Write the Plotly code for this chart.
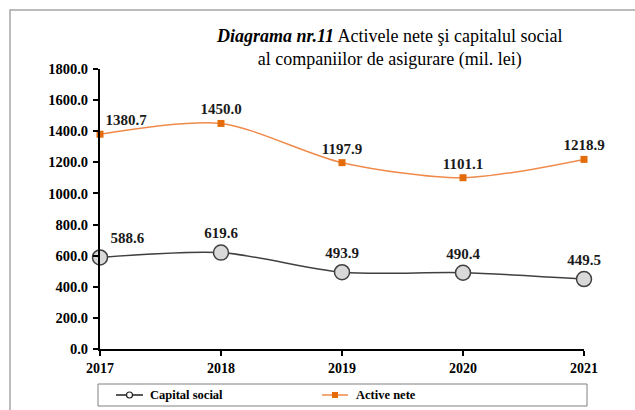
import plotly.graph_objects as go

years = [2017, 2018, 2019, 2020, 2021]
capital_social = [588.6, 619.6, 493.9, 490.4, 449.5]
active_nete = [1380.7, 1450.0, 1197.9, 1101.1, 1218.9]
y_ticks = [0, 200, 400, 600, 800, 1000, 1200, 1400, 1600, 1800]
legend_names = ["Capital social", "Active nete"]

W, H = 635, 410
L, R, T, B = 100, 51, 69, 61
pw = W - L - R
ph = H - T - B

def px2x(px):
    return (px - L) / pw

def px2y(py):
    return (H - B - py) / ph

font_fam = "Liberation Serif"

def positions(n):
    return ["top right"] + ["top center"] * (n - 1)

fig = go.Figure()
fig.add_trace(go.Scatter(
    x=years, y=capital_social, name=legend_names[0],
    mode="lines+markers+text",
    line=dict(color="#404040", width=1.5, shape="spline", smoothing=0.8),
    marker=dict(symbol="circle", size=15, color="#D9D9D9",
                line=dict(color="#404040", width=1.5)),
    text=[f"{v:.1f}" for v in capital_social],
    textposition=positions(len(years)),
    textfont=dict(family=font_fam, size=15, color="#1a1a1a", weight="bold"),
    cliponaxis=False,
))
fig.add_trace(go.Scatter(
    x=years, y=active_nete, name=legend_names[1],
    mode="lines+markers+text",
    line=dict(color="#F08A4B", width=1.5, shape="spline", smoothing=0.8),
    marker=dict(symbol="square", size=7, color="#E46C0A"),
    text=[f"{v:.1f}" for v in active_nete],
    textposition=positions(len(years)),
    textfont=dict(family=font_fam, size=15, color="#1a1a1a", weight="bold"),
    cliponaxis=False,
))

# legend drawn as a boxed key below the axis
ly = px2y(395)
shapes = [
    dict(type="rect", xref="paper", yref="paper",
         x0=px2x(10), x1=px2x(760), y0=px2y(520), y1=px2y(10),
         line=dict(color="#A6A6A6", width=1.5), fillcolor="rgba(0,0,0,0)", layer="below"),
    dict(type="rect", xref="paper", yref="paper",
         x0=px2x(98), x1=px2x(587), y0=px2y(406), y1=px2y(384),
         line=dict(color="#808080", width=1), fillcolor="rgba(0,0,0,0)"),
    # Capital social key
    dict(type="line", xref="paper", yref="paper", x0=px2x(116), x1=px2x(143), y0=ly, y1=ly,
         line=dict(color="#202020", width=1.5)),
    dict(type="circle", xref="paper", yref="paper", x0=px2x(126.5), x1=px2x(132.5),
         y0=px2y(398), y1=px2y(392), line=dict(color="#202020", width=1.2), fillcolor="white"),
    # Active nete key
    dict(type="line", xref="paper", yref="paper", x0=px2x(322), x1=px2x(348), y0=ly, y1=ly,
         line=dict(color="#F08A4B", width=1.5)),
    dict(type="rect", xref="paper", yref="paper", x0=px2x(332), x1=px2x(338),
         y0=px2y(398), y1=px2y(392), line=dict(color="#E46C0A", width=0), fillcolor="#E46C0A"),
]

annotations = [
    dict(xref="paper", yref="paper", x=px2x(389), y=px2y(48), xanchor="center", yanchor="middle",
         showarrow=False, align="center",
         text="<b><i>Diagrama nr.11</i></b> Activele nete şi capitalul social<br>al companiilor de asigurare (mil. lei)",
         font=dict(family=font_fam, size=18, color="black")),
    dict(xref="paper", yref="paper", x=px2x(148), y=ly, xanchor="left", yanchor="middle",
         showarrow=False, text=f"<b>{legend_names[0]}</b>",
         font=dict(family=font_fam, size=12.5, color="black")),
    dict(xref="paper", yref="paper", x=px2x(354), y=ly, xanchor="left", yanchor="middle",
         showarrow=False, text=f"<b>{legend_names[1]}</b>",
         font=dict(family=font_fam, size=12.5, color="black")),
]

fig.update_layout(
    width=W, height=H,
    margin=dict(l=L, r=R, t=T, b=B, pad=0, autoexpand=False),
    paper_bgcolor="white", plot_bgcolor="white",
    showlegend=False,
    xaxis=dict(range=[2017, 2021], tickvals=years, ticktext=[str(y) for y in years],
               automargin=False,
               showgrid=False, zeroline=False, showline=True, linecolor="black", linewidth=2,
               ticks="outside", ticklen=5, tickwidth=2, tickcolor="black",
               tickfont=dict(family=font_fam, size=14, color="black", weight="bold")),
    yaxis=dict(range=[0, 1800], tickvals=y_ticks, ticktext=[f"{v:.1f}" for v in y_ticks],
               automargin=False,
               showgrid=False, zeroline=False, showline=True, linecolor="black", linewidth=2,
               ticks="outside", ticklen=5, tickwidth=2, tickcolor="black",
               ticklabelstandoff=2,
               tickfont=dict(family=font_fam, size=14.5, color="black", weight="bold")),
    shapes=shapes,
    annotations=annotations,
)

fig.write_html("out.html", config={"displayModeBar": False},
               post_script="document.body.style.margin='0';document.body.style.overflow='hidden';")
